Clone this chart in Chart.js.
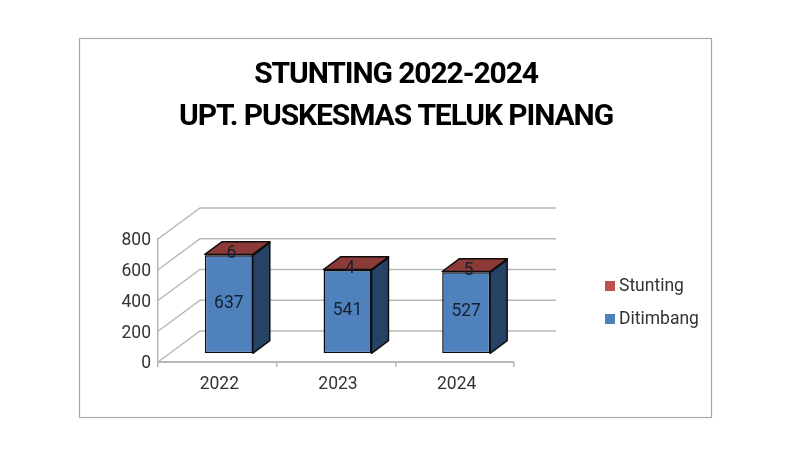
<!DOCTYPE html>
<html>
<head>
<meta charset="utf-8">
<script src="https://cdn.jsdelivr.net/npm/chart.js@4"></script>
<style>
  html, body { margin: 0; background: #fff; }
  canvas { display: block; }
</style>
</head>
<body>
<canvas id="chart" width="792" height="456"></canvas>
<script>
const years = ['2022', '2023', '2024'];
const ditimbang = [637, 541, 527];
const stunting = [6, 4, 5];
const titleLines = ['STUNTING 2022-2024', 'UPT. PUSKESMAS TELUK PINANG'];

const FONT = 'Roboto, "Liberation Sans", sans-serif';
const GRID = '#b8b8b8';
// offset of the back wall, of the bar fronts and the depth of the bars
const WALL = { x: 42, y: -31 };
const FRONT = { x: 11.5, y: -8.7 };
const DEPTH = { x: 17, y: -12.7 };

function face(ctx, pts, fill) {
    ctx.beginPath();
    pts.forEach((p, i) => i ? ctx.lineTo(p[0], p[1]) : ctx.moveTo(p[0], p[1]));
    ctx.closePath();
    ctx.fillStyle = fill;
    ctx.fill();
    ctx.stroke();
}

const fake3d = {
    id: 'fake3d',
    beforeDraw(chart) {
        const ctx = chart.ctx;
        ctx.save();
        ctx.strokeStyle = '#a8a8a8';
        ctx.lineWidth = 1.2;
        ctx.strokeRect(79.5, 38.5, 632, 379);
        // title
        ctx.fillStyle = '#000';
        ctx.font = 'bold 30px ' + FONT;
        ctx.letterSpacing = '-1.1px';
        ctx.textAlign = 'center';
        ctx.textBaseline = 'middle';
        titleLines.forEach((t, i) => ctx.fillText(t, 396, 75 + i * 42));
        ctx.restore();
    },
    beforeDatasetsDraw(chart) {
        const { ctx, chartArea: a, scales: { y } } = chart;
        ctx.save();
        ctx.strokeStyle = GRID;
        ctx.lineWidth = 1.5;
        y.ticks.forEach(t => {
            const py = y.getPixelForValue(t.value);
            ctx.beginPath();
            ctx.moveTo(a.left, py);
            ctx.lineTo(a.left + WALL.x, py + WALL.y);
            ctx.lineTo(a.right + WALL.x, py + WALL.y);
            ctx.stroke();
        });
        ctx.restore();
    },
    beforeDatasetDraw(chart) {
        chart.ctx.save();
        chart.ctx.translate(FRONT.x, FRONT.y);
    },
    afterDatasetDraw(chart) {
        chart.ctx.restore();
    },
    afterDatasetsDraw(chart) {
        const ctx = chart.ctx;
        ctx.save();
        ctx.translate(FRONT.x, FRONT.y);
        ctx.strokeStyle = '#0d0d0d';
        ctx.lineWidth = 1.5;
        ctx.lineJoin = 'round';
        const low = chart.getDatasetMeta(0).data;
        const high = chart.getDatasetMeta(1).data;
        low.forEach((bar, i) => {
            const l = bar.x - bar.width / 2, r = bar.x + bar.width / 2;
            const top = high[i].y, mid = bar.y, base = bar.base;
            face(ctx, [[r, mid], [r + DEPTH.x, mid + DEPTH.y], [r + DEPTH.x, base + DEPTH.y], [r, base]], '#264265');
            face(ctx, [[r, top], [r + DEPTH.x, top + DEPTH.y], [r + DEPTH.x, mid + DEPTH.y], [r, mid]], '#6f2b2a');
            face(ctx, [[l, top], [l + DEPTH.x, top + DEPTH.y], [r + DEPTH.x, top + DEPTH.y], [r, top]], '#8c3a38');
        });
        // value labels
        ctx.font = '17.5px ' + FONT;
        ctx.fillStyle = '#16202e';
        ctx.textAlign = 'center';
        ctx.textBaseline = 'middle';
        low.forEach((bar, i) => {
            ctx.fillText(ditimbang[i], bar.x, (bar.y + bar.base) / 2 - 1);
            ctx.fillText(stunting[i], bar.x + 2.5, high[i].y - 1);
        });
        ctx.restore();

        // legend, Stunting first
        ctx.save();
        ctx.font = '17.5px ' + FONT;
        ctx.textBaseline = 'middle';
        chart.data.datasets.slice().reverse().forEach((ds, i) => {
            const py = 286 + i * 33;
            ctx.fillStyle = ds.backgroundColor;
            ctx.fillRect(605, py - 5, 10, 10);
            ctx.fillStyle = '#333';
            ctx.fillText(ds.label, 619, py + 1);
        });
        ctx.restore();
    }
};

new Chart(document.querySelector('#chart').getContext('2d'), {
    type: 'bar',
    data: {
        labels: years,
        datasets: [
            { label: 'Ditimbang', data: ditimbang, backgroundColor: '#4f81bd', borderColor: '#0d0d0d', borderWidth: 1.5, borderSkipped: false },
            { label: 'Stunting', data: stunting, backgroundColor: '#c0504d', borderColor: '#0d0d0d', borderWidth: 1, borderSkipped: false }
        ]
    },
    options: {
        responsive: false,
        animation: false,
        layout: { padding: { top: 239, right: 278, bottom: 0, left: 0 } },
        categoryPercentage: 1,
        barPercentage: 0.404,
        plugins: { legend: { display: false }, title: { display: false }, tooltip: { enabled: false } },
        scales: {
            x: {
                stacked: true,
                afterFit(s) { s.height = 94; },
                border: { color: GRID, width: 2 },
                grid: { color: GRID, drawOnChartArea: false, tickLength: 5, lineWidth: 1.5 },
                ticks: { color: '#333', font: { family: FONT, size: 17.5 }, padding: 7, labelOffset: 2 }
            },
            y: {
                stacked: true,
                min: 0,
                max: 800,
                afterFit(s) { s.width = 158; },
                border: { color: GRID, width: 1.5 },
                grid: { display: false },
                ticks: { stepSize: 200, color: '#333', font: { family: FONT, size: 17.5 }, padding: -1, labelOffset: 2 }
            }
        }
    },
    plugins: [fake3d]
});
</script>
</body>
</html>
